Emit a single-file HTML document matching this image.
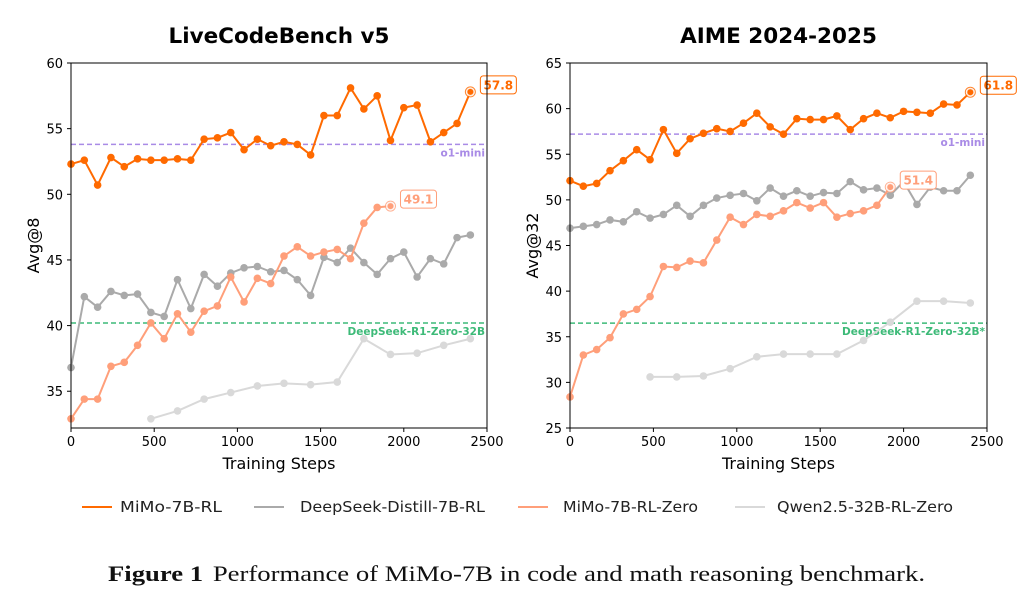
<!DOCTYPE html>
<html><head><meta charset="utf-8"><style>
body{margin:0;background:#fff;width:1030px;height:611px;overflow:hidden}
svg{display:block}
</style></head><body>
<svg id="fig" width="1030" height="611" xmlns="http://www.w3.org/2000/svg" font-family="DejaVu Sans, Liberation Sans, sans-serif"></svg>
<script>
const stepsA = [0,80,160,240,320,400,480,560,640,720,800,880,960,1040,1120,1200,1280,1360,1440,1520,1600,1680,1760,1840,1920,2000,2080,2160,2240,2320,2400];
const stepsQ = [480,640,800,960,1120,1280,1440,1600,1760,1920,2080,2240,2400];
const lcbRL = [52.3,52.6,50.7,52.8,52.1,52.7,52.6,52.6,52.7,52.6,54.2,54.3,54.7,53.4,54.2,53.7,54.0,53.8,53.0,56.0,56.0,58.1,56.5,57.5,54.1,56.6,56.8,54.0,54.7,55.4,57.8];
const lcbDS = [36.8,42.2,41.4,42.6,42.3,42.4,41.0,40.7,43.5,41.3,43.9,43.0,44.0,44.4,44.5,44.1,44.2,43.5,42.3,45.2,44.8,45.9,44.8,43.9,45.1,45.6,43.7,45.1,44.7,46.7,46.9];
const lcbZero = [32.9,34.4,34.4,36.9,37.2,38.5,40.2,39.0,40.9,39.5,41.1,41.5,43.7,41.8,43.6,43.2,45.3,46.0,45.3,45.6,45.8,45.1,47.8,49.0,49.1];
const lcbQwen = [32.9,33.5,34.4,34.9,35.4,35.6,35.5,35.7,39.0,37.8,37.9,38.5,39.0];
const aimeRL = [52.1,51.5,51.8,53.2,54.3,55.5,54.4,57.7,55.1,56.7,57.3,57.8,57.5,58.4,59.5,58.0,57.2,58.9,58.8,58.8,59.2,57.7,58.9,59.5,59.0,59.7,59.6,59.5,60.5,60.4,61.8];
const aimeDS = [46.9,47.1,47.3,47.8,47.6,48.7,48.0,48.4,49.4,48.2,49.4,50.2,50.5,50.7,49.9,51.3,50.4,51.0,50.4,50.8,50.7,52.0,51.1,51.3,50.5,52.0,49.5,51.4,51.0,51.0,52.7];
const aimeZero = [28.4,33.0,33.6,34.9,37.5,38.0,39.4,42.7,42.6,43.3,43.1,45.6,48.1,47.3,48.4,48.2,48.8,49.7,49.1,49.7,48.1,48.5,48.8,49.4,51.4];
const aimeQwen = [30.6,30.6,30.7,31.5,32.8,33.1,33.1,33.1,34.6,36.6,38.9,38.9,38.7];
const xTicks = [0,500,1000,1500,2000,2500];
const lcbYTicks = [35,40,45,50,55,60];
const aimeYTicks = [25,30,35,40,45,50,55,60,65];
const lcbRefs = [53.8,40.2];
const aimeRefs = [57.2,36.5];

const C = {rl:'#ff6a00', ds:'#aaaaaa', zero:'#ff9f7a', qwen:'#d9d9d9', o1:'#a98be6', r1:'#3dba78'};
const svg = document.getElementById('fig');
const NS='http://www.w3.org/2000/svg';
function mk(tag, attrs, parent){const e=document.createElementNS(NS,tag);for(const k in attrs)e.setAttribute(k,attrs[k]);(parent||svg).appendChild(e);return e;}

function chart(o){
  const g = mk('g',{});
  
  
  const X = v => o.x0 + (v-0)/2500*(o.x1-o.x0);
  const Y = v => o.yb - (v-o.ymin)/(o.ymax-o.ymin)*(o.yb-o.yt);
  const t = mk('text',{x:(o.x0+o.x1)/2,y:43,'text-anchor':'middle','font-size':21.5,'font-weight':'bold',fill:'#000'},g);
  t.textContent=o.title;
  
  
  const refs=[[o.refs[0],C.o1,'o1-mini'],[o.refs[1],C.r1,o.r1label]];
  refs.forEach(r=>{
    const l=mk('line',{x1:o.x0,x2:o.x1,y1:Y(r[0]),y2:Y(r[0]),stroke:r[1],'stroke-width':1.5,'stroke-dasharray':'5,3'},g);
    
    
    const tx=mk('text',{x:o.x1-2,y:Y(r[0])+12,'text-anchor':'end','font-size':10.5,'font-weight':'bold',fill:r[1]},g);
    tx.textContent=r[2];
    
    
  });
  const series=[[stepsQ,o.qwen,C.qwen,'qwen-series'],[stepsA,o.ds,C.ds,'deepseek-distill-series'],[stepsA,o.zero,C.zero,'mimo-rl-zero-series'],[stepsA,o.rl,C.rl,'mimo-rl-series']];
  series.forEach(s=>{
    const xs=s[0], ys=s[1];
    const pts=ys.map((v,i)=>X(xs[i])+','+Y(v)).join(' ');
    const pl=mk('polyline',{points:pts,fill:'none',stroke:s[2],'stroke-width':2},g);
    
    
    ys.forEach((v,i)=>{
      const c=mk('circle',{cx:X(xs[i]),cy:Y(v),r:3.8,fill:s[2]},g);
      
      
    });
  });
  [[o.rl,C.rl],[o.zero,C.zero]].forEach(s=>{
    const n=s[0].length-1, v=s[0][n], cx=X(stepsA[n]), cy=Y(v);
    mk('circle',{cx:cx,cy:cy,r:5,fill:'#fff',stroke:s[1],'stroke-width':1,opacity:0.8},g);
    mk('circle',{cx:cx,cy:cy,r:3,fill:s[1]},g);
    const bx=cx+10, by=cy-16;
    const rc=mk('rect',{x:bx,y:by,width:36,height:18,rx:3,fill:'#fff',stroke:s[1],'stroke-width':1},g);
    
    
    const tx=mk('text',{x:bx+18,y:by+13.5,'text-anchor':'middle','font-size':12,'font-weight':'bold',fill:s[1]},g);
    tx.textContent=v.toFixed(1);
    
    
  });
  const fr=mk('rect',{x:o.x0,y:o.yt,width:o.x1-o.x0,height:o.yb-o.yt,fill:'none',stroke:'#000','stroke-width':1},g);
  
  
  xTicks.forEach(v=>{
    mk('line',{x1:X(v),x2:X(v),y1:o.yb,y2:o.yb+4,stroke:'#000'},g);
    const tx=mk('text',{x:X(v),y:o.yb+18,'text-anchor':'middle','font-size':13,fill:'#000'},g);
    tx.textContent=v;
    
    
  });
  o.yt_.forEach(v=>{
    mk('line',{x1:o.x0-4,x2:o.x0,y1:Y(v),y2:Y(v),stroke:'#000'},g);
    const tx=mk('text',{x:o.x0-8,y:Y(v)+5,'text-anchor':'end','font-size':13,fill:'#000'},g);
    tx.textContent=v;
    
    
  });
  const xl=mk('text',{x:(o.x0+o.x1)/2,y:469,'text-anchor':'middle','font-size':16,fill:'#000'},g);
  xl.textContent='Training Steps';
  
  
  const yl=mk('text',{x:0,y:0,'text-anchor':'middle','font-size':16,fill:'#000',transform:`translate(${o.x0-32},${(o.yt+o.yb)/2}) rotate(-90)`},g);
  yl.textContent=o.ylabel;
  
  
}
chart({name:'livecodebench-chart',title:'LiveCodeBench v5',x0:71,x1:487,yt:63,yb:428,ymin:32.2,ymax:60,yt_:lcbYTicks,ylabel:'Avg@8',rl:lcbRL,ds:lcbDS,zero:lcbZero,qwen:lcbQwen,refs:lcbRefs,r1label:'DeepSeek-R1-Zero-32B'});
chart({name:'aime-chart',title:'AIME 2024-2025',x0:570,x1:987,yt:63,yb:428,ymin:25,ymax:65,yt_:aimeYTicks,ylabel:'Avg@32',rl:aimeRL,ds:aimeDS,zero:aimeZero,qwen:aimeQwen,refs:aimeRefs,r1label:'DeepSeek-R1-Zero-32B*'});

const leg=[['MiMo-7B-RL',C.rl,82,120,102],['DeepSeek-Distill-7B-RL',C.ds,254,300,185],['MiMo-7B-RL-Zero',C.zero,518,563,135],['Qwen2.5-32B-RL-Zero',C.qwen,735,777,176]];
const lg=mk('g',{});


leg.forEach(l=>{
  const e=mk('g',{},lg);
  
  
  mk('line',{x1:l[2],x2:l[2]+30,y1:507,y2:507,stroke:l[1],'stroke-width':2},e);
  const t=mk('text',{x:l[3],y:512,'font-size':15,fill:'#222',textLength:l[4],lengthAdjust:'spacingAndGlyphs'},e);
  t.textContent=l[0];
});
const cap=mk('text',{x:108,y:581,'font-size':22,'font-family':'Liberation Serif, serif',fill:'#111',textLength:817,lengthAdjust:'spacingAndGlyphs'});


const b=document.createElementNS(NS,'tspan');b.setAttribute('font-weight','bold');b.textContent='Figure 1';cap.appendChild(b);
const r=document.createElementNS(NS,'tspan');r.setAttribute('dx','8');r.textContent='Performance of MiMo-7B in code and math reasoning benchmark.';cap.appendChild(r);
</script>
</body></html>
